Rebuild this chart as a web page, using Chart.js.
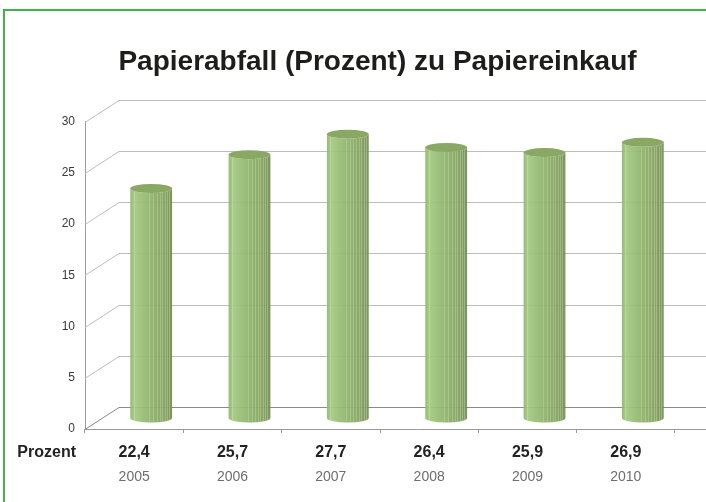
<!DOCTYPE html>
<html>
<head>
<meta charset="utf-8">
<script src="https://cdn.jsdelivr.net/npm/chart.js@4.4.0/dist/chart.umd.min.js"></script>
<style>
html,body{margin:0;padding:0;background:#fff;overflow:hidden;width:706px;height:502px;}
#frame{position:absolute;left:3px;top:9px;width:745px;height:493px;border-left:2px solid #46b04c;border-top:2px solid #46b04c;}
#frame canvas{display:block;}
</style>
</head>
<body>
<div id="frame"><canvas id="c" width="745" height="491"></canvas></div>
<script>
// ---- data ----
const years = ['2005', '2006', '2007', '2008', '2009', '2010'];
const percentValues = [22.4, 25.7, 27.7, 26.4, 25.9, 26.9];
const valueLabels = ['22,4', '25,7', '27,7', '26,4', '25,9', '26,9'];
const rowLabel = 'Prozent';
const titleText = 'Papierabfall (Prozent) zu Papiereinkauf';
const yMin = 0, yMax = 30, yStep = 5;

const FONT = "'Liberation Sans', Arial, Helvetica, sans-serif";
Chart.defaults.font.family = FONT;

const DX = 34, DY = 22; // depth offset of the back wall

const depthPlugin = {
  id: 'depth3d',
  beforeDatasetsDraw(chart) {
    const {ctx, chartArea, scales} = chart;
    const y = scales.y;
    const W = chart.width;
    const left = chartArea.left;
    ctx.save();
    ctx.lineWidth = 1;
    y.ticks.forEach(t => {
      const py = Math.round(y.getPixelForValue(t.value)) + 0.5;
      ctx.strokeStyle = t.value === 0 ? '#8a8a8a' : '#bcbcbc';
      ctx.beginPath();
      ctx.moveTo(left, py);
      ctx.lineTo(left + DX, py - DY);
      ctx.lineTo(W, py - DY);
      ctx.stroke();
    });
    const pb = Math.round(y.getPixelForValue(0)) + 0.5;
    ctx.strokeStyle = '#9a9a9a';
    ctx.beginPath();
    ctx.moveTo(left, pb);
    ctx.lineTo(W, pb);
    ctx.stroke();
    ctx.restore();
  },
  afterDatasetsDraw(chart) {
    const {ctx} = chart;
    const meta = chart.getDatasetMeta(0);
    meta.data.forEach(bar => {
      const p = bar.getProps(['x', 'y', 'base', 'width'], true);
      const cx = p.x + DX / 2, topY = p.y - DY / 2, baseY = p.base - DY / 2;
      const rx = p.width / 2, ry = 4.5;
      ctx.save();
      ctx.globalAlpha = 0.92;
      const g = ctx.createLinearGradient(cx - rx, 0, cx + rx, 0);
      g.addColorStop(0, '#8fb56b');
      g.addColorStop(0.1, '#a3c981');
      g.addColorStop(0.3, '#97bd74');
      g.addColorStop(0.55, '#8caf68');
      g.addColorStop(0.8, '#81a05e');
      g.addColorStop(1, '#718a54');
      ctx.beginPath();
      ctx.moveTo(cx - rx, topY);
      ctx.lineTo(cx - rx, baseY);
      ctx.ellipse(cx, baseY, rx, ry, 0, Math.PI, 0, true);
      ctx.lineTo(cx + rx, topY);
      ctx.ellipse(cx, topY, rx, ry, 0, 0, Math.PI, false);
      ctx.closePath();
      ctx.fillStyle = g;
      ctx.fill();
      ctx.clip();
      // vertical light stripes
      const stripes = [0.08, 0.46, 0.55, 0.63, 0.7, 0.76, 0.82, 0.88, 0.93];
      ctx.lineWidth = 1;
      stripes.forEach((f, i) => {
        const sx = Math.round(cx - rx + f * 2 * rx) + 0.5;
        ctx.strokeStyle = i === 0 ? 'rgba(200,228,170,0.55)' : 'rgba(190,215,160,0.5)';
        ctx.beginPath();
        ctx.moveTo(sx, topY);
        ctx.lineTo(sx, baseY + ry + 1);
        ctx.stroke();
      });
      ctx.restore();
      ctx.save();
      ctx.beginPath();
      ctx.ellipse(cx, topY, rx, ry, 0, 0, Math.PI * 2);
      ctx.fillStyle = '#88a864';
      ctx.fill();
      ctx.restore();
    });
  },
  afterDraw(chart) {
    const {ctx, chartArea} = chart;
    const x = chart.scales.x;
    const labelY = x.top + 24;
    ctx.save();
    ctx.font = 'bold 16px ' + FONT;
    ctx.fillStyle = '#222';
    ctx.textAlign = 'right';
    ctx.textBaseline = 'middle';
    ctx.fillText(rowLabel, chartArea.left - 9, labelY);
    ctx.restore();
  }
};

new Chart(document.getElementById('c'), {
  type: 'bar',
  data: {
    labels: years,
    datasets: [{
      data: percentValues,
      backgroundColor: 'rgba(0,0,0,0)',
      borderWidth: 0,
      barPercentage: 0.85,
      categoryPercentage: 0.5
    }]
  },
  options: {
    responsive: false,
    animation: false,
    events: [],
    layout: {padding: 0},
    plugins: {
      legend: {display: false},
      tooltip: {enabled: false},
      title: {
        display: true,
        text: titleText,
        color: '#1d1d1b',
        font: {size: 28, weight: 'bold', family: FONT},
        padding: {top: 34, bottom: 43}
      }
    },
    scales: {
      x: {
        type: 'category',
        position: 'bottom',
        weight: 0,
        offset: true,
        grid: {display: true, drawOnChartArea: false, drawTicks: true, tickLength: 4, color: '#9a9a9a', offset: true},
        border: {display: false},
        ticks: {
          callback: (v, i) => valueLabels[i],
          font: {size: 16, weight: 'bold', family: FONT},
          color: '#222',
          padding: 10,
          maxRotation: 0,
          autoSkip: false
        },
        afterFit: s => { s.height = 36; }
      },
      x2: {
        type: 'category',
        labels: years,
        position: 'bottom',
        weight: 1,
        offset: true,
        grid: {display: false, drawTicks: false},
        border: {display: false},
        ticks: {font: {size: 14, family: FONT}, color: '#6e6e6e', padding: 4, maxRotation: 0, autoSkip: false},
        afterFit: s => { s.height = 37; }
      },
      y: {
        min: yMin,
        max: yMax,
        grid: {display: false, drawTicks: false},
        border: {display: true, color: '#9e9e9e'},
        ticks: {stepSize: yStep, font: {size: 12, family: FONT}, color: '#3a3a3a', padding: 10},
        afterFit: s => { s.width = 80; }
      },
      yRight: {
        position: 'right',
        min: yMin,
        max: yMax,
        grid: {display: false, drawTicks: false},
        border: {display: false},
        ticks: {display: false},
        afterFit: s => { s.width = 75; }
      }
    }
  },
  plugins: [depthPlugin]
});
</script>
</body>
</html>
